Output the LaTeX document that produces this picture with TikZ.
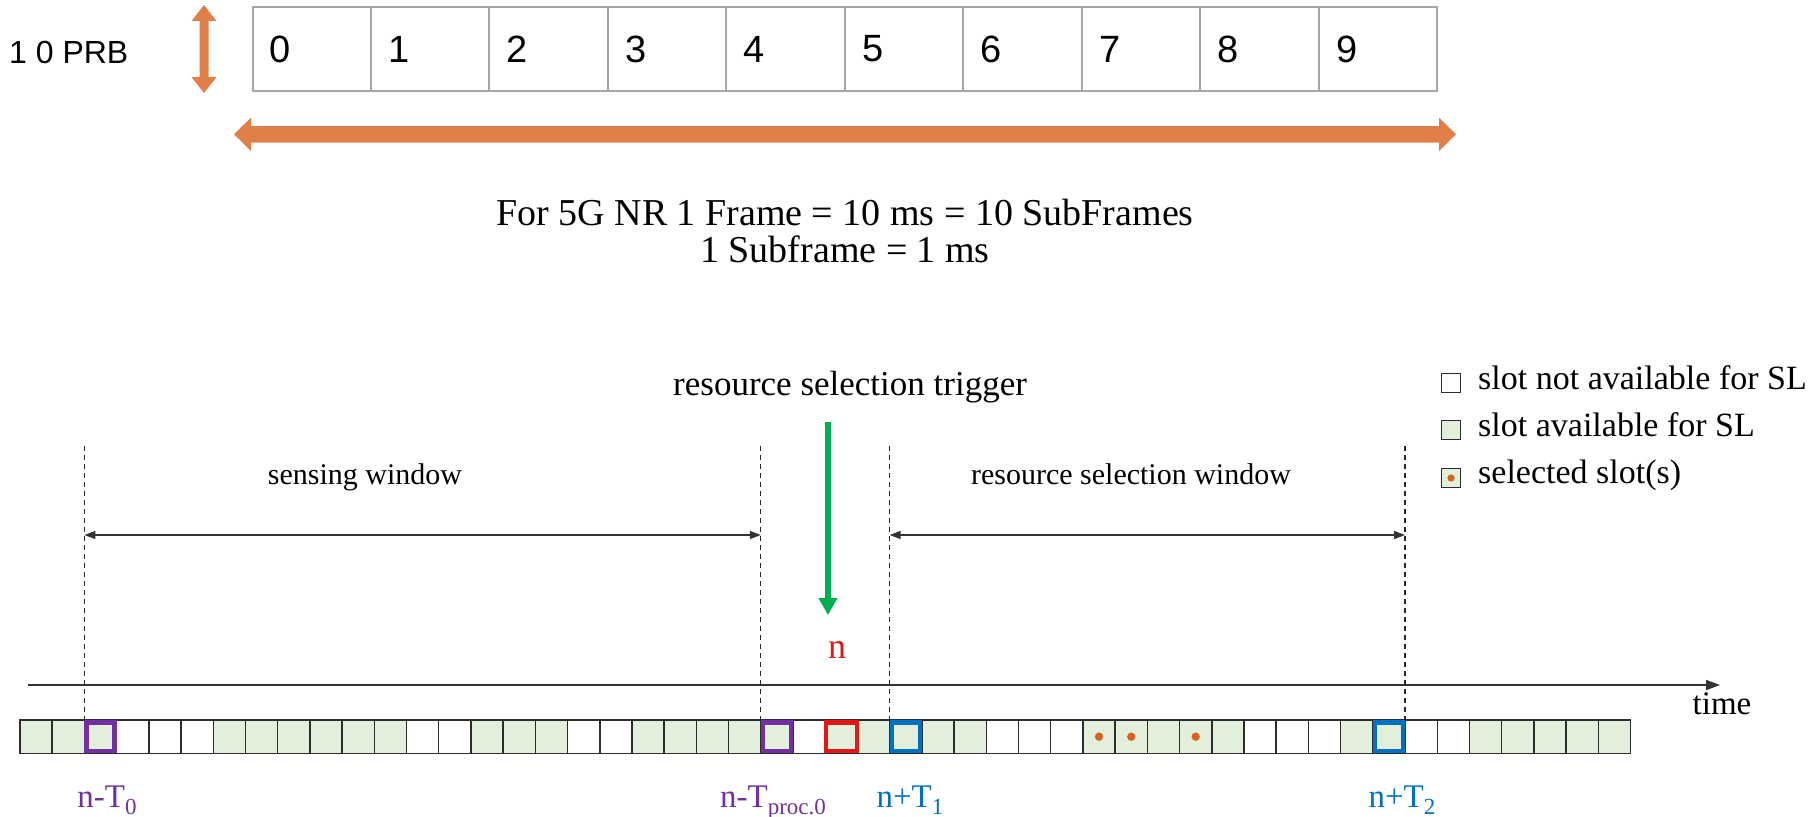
\documentclass[tikz,border=0pt]{standalone}
\usepackage{fontspec}
\setmainfont{Liberation Serif}
\newfontfamily\arialf{Liberation Sans}
\usetikzlibrary{arrows.meta}
\definecolor{orangeA}{RGB}{224,128,72}
\definecolor{slotgreen}{RGB}{226,239,218}
\definecolor{slotline}{RGB}{45,45,45}
\definecolor{purpleA}{RGB}{112,48,160}
\definecolor{redA}{RGB}{228,22,22}
\definecolor{blueA}{RGB}{0,112,192}
\definecolor{greenA}{RGB}{0,176,80}
\definecolor{dotorange}{RGB}{214,100,30}
\definecolor{boxgray}{RGB}{166,166,166}
\newcommand{\mysub}[1]{\raisebox{-7pt}{\fontsize{23}{23}\selectfont #1}}
\tikzset{
  prbcell/.style={draw=boxgray, line width=2pt, fill=white, minimum width=118.48pt, minimum height=83.4pt, inner sep=0pt, outer sep=0pt, anchor=north west},
  prbdigit/.style={font=\arialf\fontsize{38}{38}\selectfont, anchor=west, inner sep=0pt},
  slotcell/.style={draw=slotline, line width=1.5pt, minimum width=32.21pt, minimum height=33.3pt, inner sep=0pt, outer sep=0pt, anchor=north west},
  hlbox/.style={line width=4.5pt, minimum width=28pt, minimum height=28.5pt, inner sep=0pt, outer sep=0pt, fill=slotgreen},
  dashline/.style={black!85, line width=1.3pt, dash pattern=on 5pt off 4pt},
  dimarrow/.style={black!80, line width=1.3pt, {Triangle[length=11pt,width=8pt]}-{Triangle[length=11pt,width=8pt]}},
  winlabel/.style={font=\fontsize{30}{30}\selectfont, inner sep=0pt, anchor=base},
  leglabel/.style={font=\fontsize{34}{34}\selectfont, inner sep=0pt, anchor=base west},
  legsq/.style={draw=slotline, line width=1.3pt, minimum size=19pt, inner sep=0pt, outer sep=0pt},
  slotlabel/.style={font=\fontsize{33}{33}\selectfont, inner sep=0pt, anchor=base},
  frametxt/.style={font=\fontsize{38}{38}\selectfont, inner sep=0pt, anchor=base},
  seldot/.style={fill=dotorange}
}
\begin{document}
\begin{tikzpicture}[x=1pt,y=-1pt]
\useasboundingbox (0,0) rectangle (1819,816);

% ---------- top PRB box ----------
\foreach \i in {0,...,9} {
  \node[prbcell] (c\i) at ({252.5+118.48*\i},7.3) {};
  \node[prbdigit] (d\i) at ({252.5+118.48*\i+17},49) {\i};
}
\node[font=\arialf\fontsize{32}{32}\selectfont, anchor=west, inner sep=0pt] (prb) at (9,52) {1 0 PRB};

% vertical orange double arrow
\fill[orangeA] (204,5) -- (216.5,21) -- (208.5,21) -- (208.5,77) -- (216.5,77) -- (204,93)
  -- (191.5,77) -- (199.5,77) -- (199.5,21) -- (191.5,21) -- cycle;
% horizontal orange double arrow
\fill[orangeA] (234,134.3) -- (251,117.6) -- (251,126) -- (1439,126) -- (1439,117.6) -- (1456,134.3)
  -- (1439,151) -- (1439,142.6) -- (251,142.6) -- (251,151) -- cycle;

\node[frametxt] (frame1) at (845,225) {For 5G NR 1 Frame = 10 ms = 10 SubFrames};
\node[frametxt] (frame2) at (845,262) {1 Subframe = 1 ms};

% ---------- legend ----------
\node[legsq, fill=white] (lg1) at (1451,383) {};
\node[leglabel] (lt1) at (1478,389) {slot not available for SL};
\node[legsq, fill=slotgreen] (lg2) at (1451,430) {};
\node[leglabel] (lt2) at (1478,436) {slot available for SL};
\node[legsq, fill=slotgreen] (lg3) at (1451,478) {};
\fill[seldot] (lg3.center) circle (3.6);
\node[leglabel] (lt3) at (1478,483) {selected slot(s)};

% ---------- trigger ----------
\node[font=\fontsize{35}{35}\selectfont, inner sep=0pt, anchor=base west] (trig) at (673,395) {resource selection trigger};
\coordinate (gtop) at (828,422);
\coordinate (gtip) at (828,615);
\draw[greenA, line width=6pt, -{Triangle[length=17pt,width=18pt]}] (gtop) -- (gtip);
\node[font=\fontsize{36}{36}\selectfont, text=redA, inner sep=0pt, anchor=base] (nlab) at (837,658) {n};

% ---------- slot row ----------
\foreach \i in {0,1,2,6,7,8,9,10,11,14,15,16,19,20,21,22,23,25,26,27,28,29,33,34,35,36,37,41,42,45,46,47,48,49}
  \node[slotcell, fill=slotgreen] (s\i) at ({20+32.21*\i},720) {};
\foreach \i in {3,4,5,12,13,17,18,24,30,31,32,38,39,40,43,44}
  \node[slotcell, fill=white] (s\i) at ({20+32.21*\i},720) {};

\node[hlbox, draw=purpleA] (h0) at (s2.center) {};
\node[hlbox, draw=purpleA] (h1) at (s23.center) {};
\node[hlbox, draw=redA, minimum width=31pt] (h2) at (s25.center) {};
\node[hlbox, draw=blueA] (h3) at (s27.center) {};
\node[hlbox, draw=blueA] (h4) at (s42.center) {};
\foreach \i in {33,34,36} \fill[seldot] (s\i.center) circle (4.2);

% ---------- time axis ----------
\coordinate (ax0) at (28,685);
\coordinate (ax1) at (1720,685);
\draw[black!80, line width=1.8pt, -{Triangle[length=14pt,width=10pt]}] (ax0) -- (ax1);
\node[font=\fontsize{33}{33}\selectfont, inner sep=0pt, anchor=base] (timelab) at (1722,714) {time};

% ---------- dashed markers ----------
\coordinate (m0) at (s2.north west);
\coordinate (m1) at (s23.north west);
\coordinate (m2) at (s27.north west);
\coordinate (m3) at (s42.north east);
\path (m0 |- 0,446) coordinate (t0) (m1 |- 0,446) coordinate (t1) (m2 |- 0,446) coordinate (t2) (m3 |- 0,446) coordinate (t3);
\draw[dashline] (t0) -- (m0);
\draw[dashline] (t1) -- (m1);
\draw[dashline] (t2) -- (m2);
\draw[dashline] (t3) -- (m3);

% ---------- window arrows ----------
\coordinate (sw0) at (m0 |- 0,535);
\coordinate (sw1) at (m1 |- 0,535);
\coordinate (rw0) at (m2 |- 0,535);
\coordinate (rw1) at (m3 |- 0,535);
\draw[dimarrow] (sw0) -- (sw1);
\draw[dimarrow] (rw0) -- (rw1);
\node[winlabel] (swl) at (365,484) {sensing window};
\node[winlabel] (rwl) at (1131,484) {resource selection window};

% ---------- slot labels ----------
\node[slotlabel, text=purpleA] (lT0) at (107,807) {n-T\mysub{0}};
\node[slotlabel, text=purpleA] (lTp) at (773,807) {n-T\mysub{proc.0}};
\node[slotlabel, text=blueA] (lT1) at (910,807) {n+T\mysub{1}};
\node[slotlabel, text=blueA] (lT2) at (1402,807) {n+T\mysub{2}};
\end{tikzpicture}
\end{document}
